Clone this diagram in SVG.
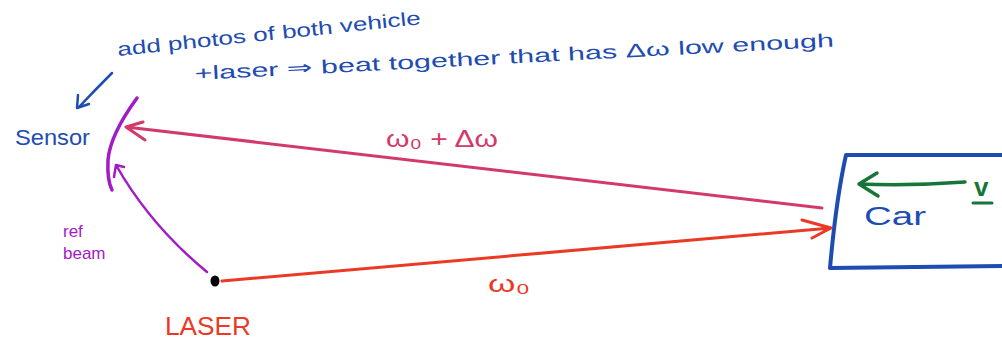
<svg xmlns="http://www.w3.org/2000/svg" width="1002" height="341" viewBox="0 0 1002 341">
<style>
.t{font-family:"Liberation Sans",Arial,sans-serif;}
.ln{fill:none;stroke-linecap:round;stroke-linejoin:round;}
.blue{fill:#1e4cb0;}
.bs{stroke:#1e4cb0;}
.pink{fill:#d23a6c;}
.ps{stroke:#d23a6c;}
.red{fill:#ea3a26;}
.rs{stroke:#ea3a26;}
.pur{fill:#a21cc4;}
.pus{stroke:#a21cc4;}
.grn{fill:#17753a;}
.gs{stroke:#17753a;}
</style>
<rect width="1002" height="341" fill="#ffffff"/>
<g id="note">
<text class="t blue" x="118" y="56" font-size="19" transform="rotate(-6 118 56)" textLength="305" lengthAdjust="spacingAndGlyphs">add photos of both vehicle</text>
<text class="t blue" x="195" y="80" font-size="19" transform="rotate(-3 195 80)" textLength="640" lengthAdjust="spacingAndGlyphs">+laser ⇒ beat together that has Δω low enough</text>
<path class="ln bs" stroke-width="2.5" d="M112 73 Q95 90 79 107 M78 95 L77 108 L89 104"/>
</g>
<g id="sensor">
<path class="ln pus" stroke-width="3.5" d="M137 98 Q110 135 108 160 Q107 180 112 190"/>
<text class="t blue" x="15" y="145" font-size="22" textLength="75" lengthAdjust="spacingAndGlyphs">Sensor</text>
</g>
<g id="laser">
<ellipse cx="215" cy="281" rx="4.5" ry="5.5" fill="#000"/>
<text class="t red" x="165" y="335" font-size="25" textLength="86" lengthAdjust="spacingAndGlyphs">LASER</text>
</g>
<g id="car">
<path class="ln bs" stroke-width="4" d="M1002 155 L846 155 Q836 200 830 268 L1002 266"/>
<text class="t blue" x="864" y="225" font-size="26" textLength="62" lengthAdjust="spacingAndGlyphs">Car</text>
<path class="ln gs" stroke-width="3.5" d="M965 182 Q910 186 859 184 M877 173 L859 184 L878 196"/>
<text class="t grn" x="974" y="196" font-size="26" font-weight="bold">v</text>
<path class="ln gs" stroke-width="3" d="M973 203 L992 203"/>
</g>
<g id="connectors">
<path class="ln ps" stroke-width="3" d="M822 208 L126 127 M143 122 L126 127 L145 140"/>
<path class="ln rs" stroke-width="3" d="M222 281 L831 228 M802 220 L831 228 L812 238"/>
<path class="ln pus" stroke-width="2.5" d="M207 272 Q150 225 116 165 M114 177 L116 165 L124 167"/>
</g>
<g id="labels">
<text class="t pink" x="386" y="147" font-size="24" textLength="112" lengthAdjust="spacingAndGlyphs">ω₀ + Δω</text>
<text class="t red" x="488" y="292" font-size="24" textLength="42" lengthAdjust="spacingAndGlyphs">ω₀</text>
<text class="t pur" x="63" y="237" font-size="17">ref</text>
<text class="t pur" x="63" y="259" font-size="17">beam</text>
</g>
</svg>
